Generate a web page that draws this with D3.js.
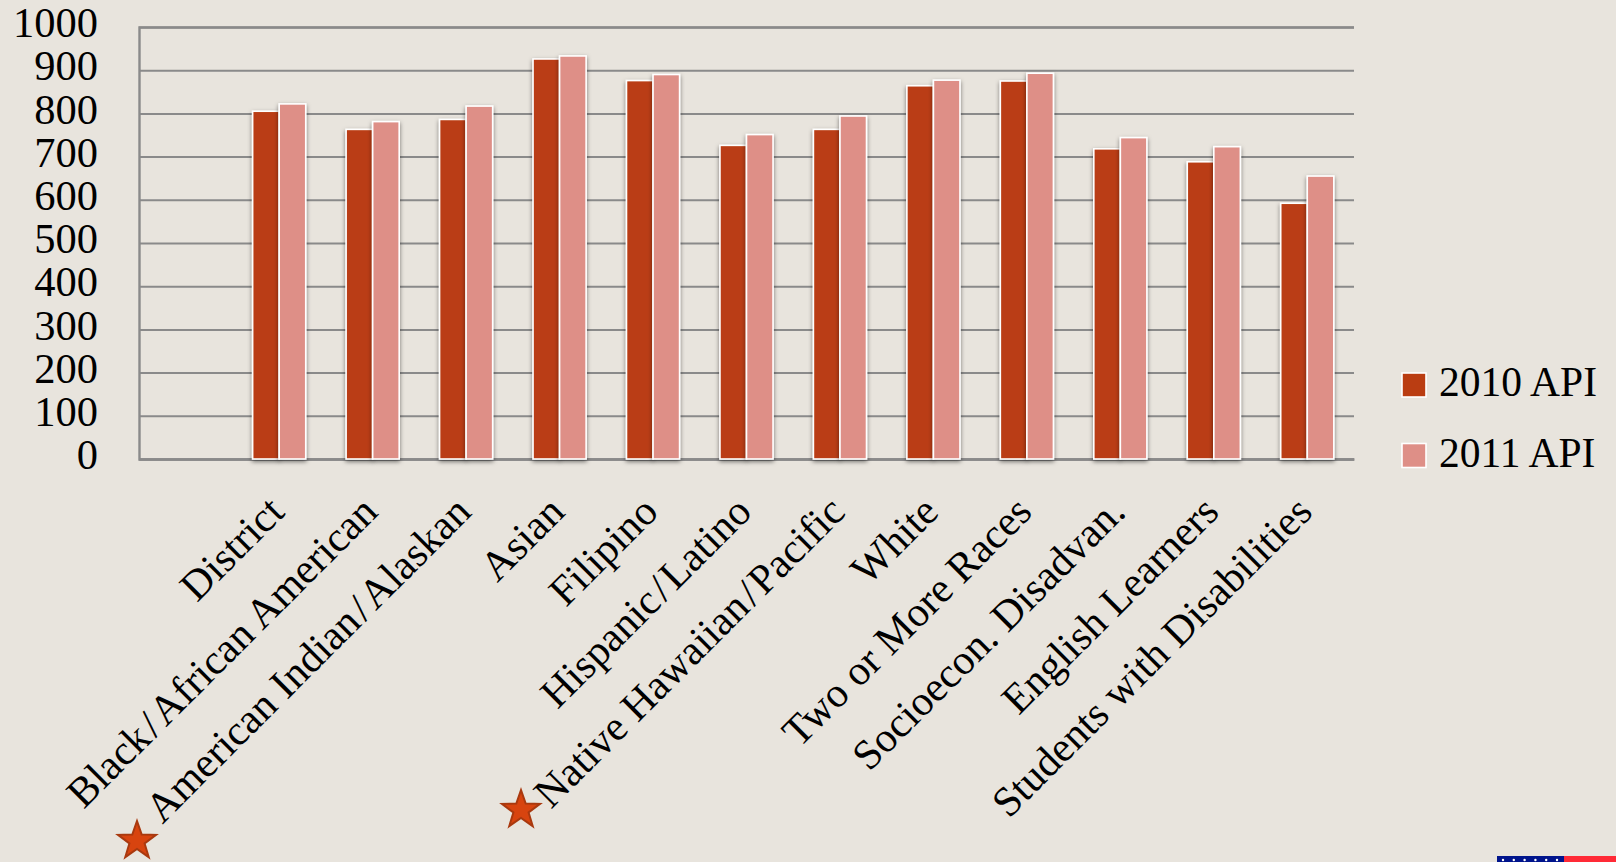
<!DOCTYPE html>
<html>
<head>
<meta charset="utf-8">
<script src="https://cdnjs.cloudflare.com/ajax/libs/d3/7.8.5/d3.min.js"></script>
<style>
html, body { margin: 0; padding: 0; background: #e8e4dd; overflow: hidden; }
text { font-family: "Liberation Serif", serif; fill: #000; }
</style>
</head>
<body>
<div id="grafica"></div>
<script>
// first slot of the chart is empty in the original
categorias = ['', 'District', 'Black / African American', 'American Indian / Alaskan', 'Asian', 'Filipino',
    'Hispanic / Latino', 'Native Hawaiian / Pacific', 'White', 'Two or More Races',
    'Socioecon. Disadvan.', 'English Learners', 'Students with Disabilities']
api2010 = [null, 805, 763, 786, 926, 876, 726, 763, 864, 875, 718, 688, 592]
api2011 = [null, 822, 781, 817, 933, 890, 751, 794, 877, 893, 744, 723, 655]
series = ['2010 API', '2011 API']
colores = ['#ba3d12', '#de8f87']
marcados = ['American Indian / Alaskan', 'Native Hawaiian / Pacific']
yTicks = [0, 100, 200, 300, 400, 500, 600, 700, 800, 900, 1000]

width = 1616
height = 862
margin = { top: 27, right: 262, bottom: 403, left: 139 }
w = width - margin.left - margin.right
h = height - margin.top - margin.bottom

svg = d3.select('#grafica').append('svg')
    .attr('width', width)
    .attr('height', height)
    .style('display', 'block')

defs = svg.append('defs')
sombra = defs.append('filter').attr('id', 'sombra')
    .attr('x', '-20%').attr('y', '-5%').attr('width', '140%').attr('height', '110%')
sombra.append('feDropShadow').attr('dx', 0).attr('dy', 2)
    .attr('stdDeviation', 2).attr('flood-color', '#000').attr('flood-opacity', 0.5)

svg.append('rect').attr('width', width).attr('height', height).attr('fill', '#e8e4dd')

g = svg.append('g').attr('transform', 'translate(' + margin.left + ',' + margin.top + ')')

x = d3.scaleBand().domain(categorias.map(function (d, i) { return i })).range([0, w])
x1 = d3.scaleBand().domain([0, 1]).range([x.bandwidth() * 0.216, x.bandwidth() * 0.784])
y = d3.scaleLinear().domain([0, 1000]).range([h, 0])

// gridlines + y labels
yAxis = g.append('g').call(d3.axisLeft(y).tickValues(yTicks).tickSize(-w).tickPadding(41).tickFormat(d3.format('d')))
yAxis.select('.domain').attr('stroke', '#8a8a8a').attr('stroke-width', 2.4)
yAxis.selectAll('.tick line').attr('stroke', '#8a8a8a').attr('stroke-width', 2)
yAxis.selectAll('.tick text')
    .attr('dy', '0.32em')
    .attr('y', -4)
    .style('font-size', '42.5px')
    .style('font-family', '"Liberation Serif", serif')
    .attr('fill', '#000')

// x axis labels, rotated
xAxis = g.append('g').attr('transform', 'translate(0,' + h + ')')
    .call(d3.axisBottom(x).tickSize(0).tickFormat(function (i) { return categorias[i] }))
xAxis.select('.domain').attr('stroke', '#8a8a8a').attr('stroke-width', 2.4)
xAxis.selectAll('.tick text')
    .attr('text-anchor', 'end')
    .attr('dy', 0)
    .attr('y', 0)
    .attr('transform', 'translate(7,55) rotate(-45)')
    .style('font-size', '42px')
    .style('font-family', '"Liberation Serif", serif')
    .attr('fill', '#000')
    .each(function (i) {
        // the slash sits tight against its words, other spaces stay normal
        partes = categorias[i].split(' / ')
        if (partes.length < 2) return
        t = d3.select(this).text(null)
        t.append('tspan').text(partes[0])
        t.append('tspan').style('word-spacing', '-0.17em').text(' / ')
        t.append('tspan').text(partes[1])
    })

// bars
;[api2010, api2011].forEach(function (vals, s) {
    g.append('g').selectAll('rect')
        .data(vals.map(function (v, i) { return { i: i, v: v } }).filter(function (d) { return d.v != null }))
        .enter()
        .append('rect')
        .attr('x', function (d) { return x(d.i) + x1(s) })
        .attr('y', function (d) { return y(d.v) })
        .attr('width', x1.bandwidth())
        .attr('height', function (d) { return h - y(d.v) })
        .attr('fill', colores[s])
        .attr('stroke', '#fff')
        .attr('stroke-width', 1.6)
        .attr('filter', 'url(#sombra)')
})

// legend
leyenda = svg.append('g').selectAll('g')
    .data(series)
    .enter().append('g')
    .attr('transform', function (d, i) { return 'translate(1402,' + (373 + i * 70.5) + ')' })
leyenda.append('rect')
    .attr('width', 24).attr('height', 24)
    .attr('fill', function (d, i) { return colores[i] })
    .attr('stroke', '#fff').attr('stroke-width', 1.6)
leyenda.append('text')
    .attr('x', 37).attr('y', 23)
    .style('font-size', '41.5px')
    .text(function (d) { return d })

// stars beside the flagged groups
function estrella(r) {
    pts = []
    for (k = 0; k < 10; k++) {
        rr = k % 2 == 0 ? r : r * 0.4
        a = -Math.PI / 2 + k * Math.PI / 5
        pts.push([rr * Math.cos(a), rr * Math.sin(a)])
    }
    return d3.line()(pts) + 'Z'
}
posEstrella = { 'American Indian / Alaskan': [137, 841], 'Native Hawaiian / Pacific': [521, 810] }
svg.append('g').selectAll('path')
    .data(marcados)
    .enter().append('path')
    .attr('d', estrella(20))
    .attr('transform', function (d) { return 'translate(' + posEstrella[d] + ')' })
    .attr('fill', '#d8440f')
    .attr('stroke', '#a9390f')
    .attr('stroke-width', 2)

// flag strip in the corner
svg.append('rect').attr('x', 1497).attr('y', 856).attr('width', 67).attr('height', 6).attr('fill', '#00148c')
svg.append('rect').attr('x', 1564).attr('y', 856).attr('width', 52).attr('height', 6).attr('fill', '#ff2a36')
svg.append('g').selectAll('circle')
    .data(d3.range(6))
    .enter().append('circle')
    .attr('cx', function (d) { return 1503 + d * 10.8 })
    .attr('cy', 860)
    .attr('r', 1.2)
    .attr('fill', '#fff')
</script>
</body>
</html>
